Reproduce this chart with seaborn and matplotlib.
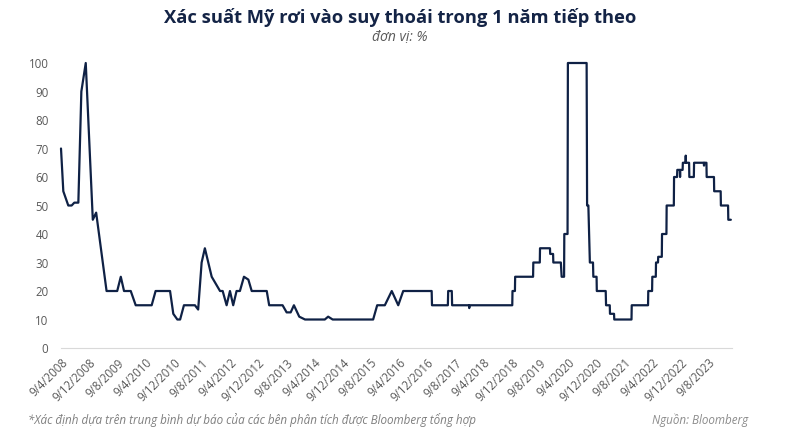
import pandas as pd
import seaborn as sns
import matplotlib.pyplot as plt

# values (date, probability %)
dates = [
    "2008-04-09", "2008-04-29", "2008-06-11", "2008-07-10", "2008-08-02", "2008-09-06",
    "2008-10-02", "2008-11-09", "2009-01-09", "2009-02-07", "2009-05-08", "2009-08-08",
    "2009-09-08", "2009-10-06", "2009-12-03", "2010-01-15", "2010-06-02", "2010-07-06",
    "2010-11-08", "2010-12-06", "2011-01-10", "2011-02-03", "2011-03-08", "2011-06-11",
    "2011-07-09", "2011-08-08", "2011-09-05", "2011-11-03", "2011-12-16", "2012-01-14",
    "2012-02-06", "2012-03-11", "2012-04-09", "2012-05-07", "2012-06-05", "2012-07-04",
    "2012-08-08", "2012-09-15", "2012-10-14", "2013-02-21", "2013-03-14", "2013-07-08",
    "2013-08-12", "2013-09-16", "2013-10-14", "2013-11-29", "2014-01-18", "2014-07-08",
    "2014-08-06", "2014-09-14", "2015-08-30", "2015-10-04", "2015-12-09", "2016-02-07",
    "2016-04-03", "2016-05-16", "2017-01-17", "2017-01-20", "2017-06-06", "2017-06-09",
    "2017-07-10", "2017-07-13", "2017-12-06", "2017-12-08", "2017-12-10", "2018-12-15",
    "2018-12-17", "2019-01-07", "2019-01-09", "2019-06-13", "2019-06-15", "2019-08-10",
    "2019-08-12", "2019-11-06", "2019-11-08", "2019-12-03", "2019-12-05", "2020-02-08",
    "2020-02-15", "2020-03-07", "2020-03-09", "2020-04-06", "2020-04-09", "2020-09-18",
    "2020-09-22", "2020-10-03", "2020-10-16", "2020-11-12", "2020-11-15", "2020-12-13",
    "2020-12-15", "2021-03-02", "2021-03-05", "2021-04-06", "2021-04-08", "2021-05-13",
    "2021-05-15", "2021-10-11", "2021-10-13", "2022-03-03", "2022-03-05", "2022-04-07",
    "2022-04-09", "2022-05-09", "2022-05-11", "2022-05-28", "2022-05-30", "2022-06-30",
    "2022-07-02", "2022-08-09", "2022-08-11", "2022-10-12", "2022-10-14", "2022-11-09",
    "2022-11-11", "2022-12-03", "2022-12-05", "2022-12-07", "2022-12-27", "2022-12-29",
    "2023-01-21", "2023-01-23", "2023-01-25", "2023-02-21", "2023-02-23", "2023-04-03",
    "2023-04-05", "2023-06-28", "2023-06-30", "2023-07-02", "2023-07-21", "2023-07-23",
    "2023-09-24", "2023-09-26", "2023-11-21", "2023-11-23", "2024-01-24", "2024-01-26",
    "2024-02-17",
]
prob = [
    70, 55, 50, 50, 51, 51,
    90, 100, 45, 47.5, 20, 20,
    25, 20, 20, 15, 15, 20,
    20, 12, 10, 10, 15, 15,
    13.5, 30, 35, 25, 22, 20,
    20, 15, 20, 15, 20, 20,
    25, 24, 20, 20, 15, 15,
    12.5, 12.5, 15, 11, 10, 10,
    11, 10, 10, 15, 15, 20,
    15, 20, 20, 15, 15, 20,
    20, 15, 15, 14, 15, 15,
    20, 20, 25, 25, 30, 30,
    35, 35, 33, 33, 30, 30,
    25, 25, 40, 40, 100, 100,
    50, 50, 30, 30, 25, 25,
    20, 20, 15, 15, 12, 12,
    10, 10, 15, 15, 20, 20,
    25, 25, 30, 30, 32, 32,
    40, 40, 50, 50, 60, 60,
    62.5, 62.5, 60, 62.5, 62.5, 65,
    65, 67.5, 65, 65, 60, 60,
    65, 65, 64, 65, 65, 60,
    60, 55, 55, 50, 50, 45,
    45,
]
tick_dates = [
    "2008-04-09", "2008-12-09", "2009-08-09", "2010-04-09", "2010-12-09", "2011-08-09",
    "2012-04-09", "2012-12-09", "2013-08-09", "2014-04-09", "2014-12-09", "2015-08-09",
    "2016-04-09", "2016-12-09", "2017-08-09", "2018-04-09", "2018-12-09", "2019-08-09",
    "2020-04-09", "2020-12-09", "2021-08-09", "2022-04-09", "2022-12-09", "2023-08-09",
]
tick_labels = [
    "9/4/2008", "9/12/2008", "9/8/2009", "9/4/2010", "9/12/2010", "9/8/2011",
    "9/4/2012", "9/12/2012", "9/8/2013", "9/4/2014", "9/12/2014", "9/8/2015",
    "9/4/2016", "9/12/2016", "9/8/2017", "9/4/2018", "9/12/2018", "9/8/2019",
    "9/4/2020", "9/12/2020", "9/8/2021", "9/4/2022", "9/12/2022", "9/8/2023",
]

df = pd.DataFrame({"date": pd.to_datetime(dates), "prob": prob})

sns.set_style("white")
plt.rcParams["font.family"] = ["Open Sans", "DejaVu Sans"]

navy = "#0f2145"
gray = "#595959"

fig = plt.figure(figsize=(8, 4.44), dpi=100)
ax = fig.add_axes([0.07625, 0.2162, 0.83875, 0.6419])

sns.lineplot(data=df, x="date", y="prob", color=navy, linewidth=1.6, ax=ax, clip_on=False)

ax.set_xlim(pd.Timestamp("2008-04-09"), pd.Timestamp("2024-02-27"))
ax.set_ylim(0, 100)
ax.set_yticks(range(0, 101, 10))
ax.set_xticks(pd.to_datetime(tick_dates))
ax.set_xticklabels(tick_labels, rotation=45, ha="right", rotation_mode="anchor")
ax.tick_params(axis="x", colors=gray, labelsize=8.3, length=4, width=0.8, color="#d9d9d9", pad=2)
ax.tick_params(axis="y", colors=gray, labelsize=8.3, length=0, pad=9)
ax.set_xlabel("")
ax.set_ylabel("")

for side in ["top", "right", "left"]:
    ax.spines[side].set_visible(False)
ax.spines["bottom"].set_color("#d9d9d9")
ax.spines["bottom"].set_linewidth(0.8)

fig.text(0.5, 0.961, "Xác suất Mỹ rơi vào suy thoái trong 1 năm tiếp theo",
         ha="center", va="center", fontsize=13.2, fontweight="bold", color="#142446")
fig.text(0.5, 0.917, "đơn vị: %", ha="center", va="center", fontsize=10,
         style="italic", color=gray)
fig.text(0.035, 0.053, "*Xác định dựa trên trung bình dự báo của các bên phân tích được Bloomberg tổng hợp",
         ha="left", va="center", fontsize=8.4, style="italic", color="#7f7f7f")
fig.text(0.935, 0.053, "Nguồn: Bloomberg", ha="right", va="center", fontsize=8.4,
         style="italic", color="#8c8c8c")

fig.savefig("out.png", dpi=100)
